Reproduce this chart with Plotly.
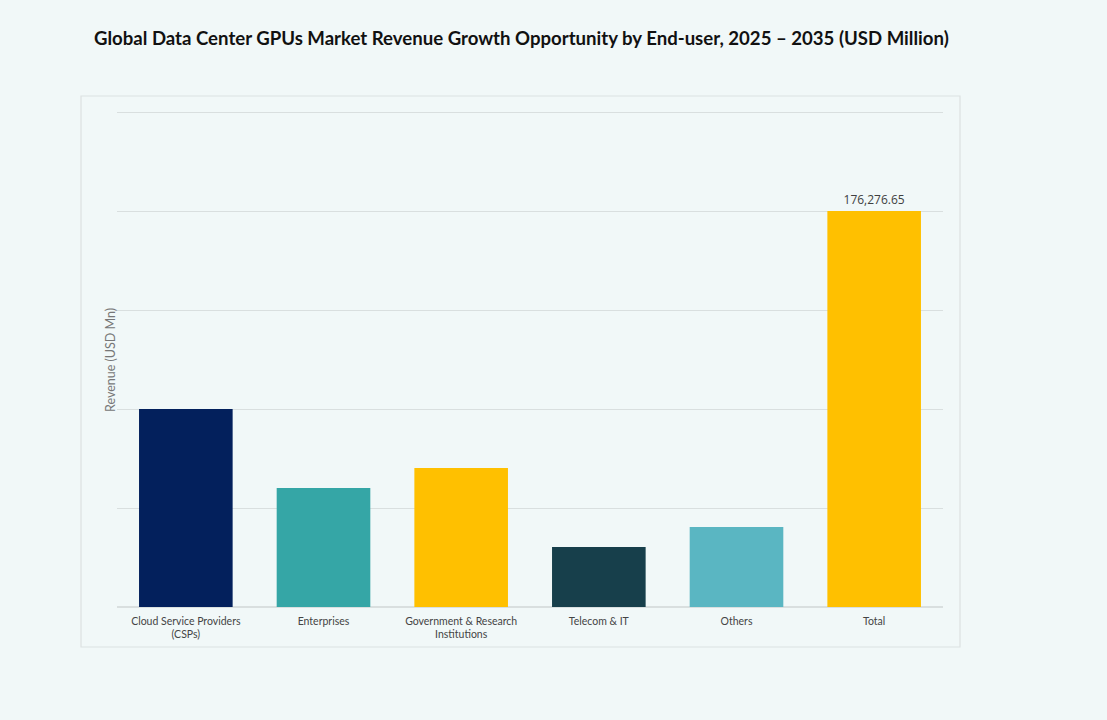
import plotly.graph_objects as go

categories = ["Cloud Service Providers<br>(CSPs)", "Enterprises", "Government & Research<br>Institutions",
              "Telecom & IT", "Others", "Total"]
values = [88138.3, 52972.0, 61875.0, 26709.0, 35612.0, 176276.65]
bar_colors = ["#03205c", "#35a6a6", "#ffc000", "#173f4b", "#5ab6c2", "#ffc000"]
bar_text = ["", "", "", "", "", "176,276.65"]

grid_step = values[-1] / 4

plot_top = 109
plot_bottom = 607
plot_h = plot_bottom - plot_top

fig = go.Figure()
fig.add_trace(go.Bar(
    x=categories, y=values,
    marker=dict(color=bar_colors, line=dict(width=0)),
    width=0.68,
    text=bar_text, textposition="outside", cliponaxis=False,
    textfont=dict(family="Open Sans, sans-serif", size=12, color="#404040"),
))

bg = "#f1f8f8"
fig.update_layout(
    width=1107, height=720,
    paper_bgcolor=bg, plot_bgcolor=bg,
    margin=dict(l=117, r=164, t=plot_top, b=720 - plot_bottom),
    showlegend=False,
    title=dict(text="<b>Global Data Center GPUs Market Revenue Growth Opportunity by End-user, 2025 – 2035 (USD Million)</b>",
               x=0.471, xanchor="center", y=0.946, yanchor="middle",
               font=dict(family="Lato, sans-serif", size=18.6, color="#111111")),
    xaxis=dict(showgrid=False, showline=False, zeroline=False, ticks="", ticklabelstandoff=6,
               tickfont=dict(family="Lato, sans-serif", size=10.5, color="#444444")),
    # 4 grid steps span 396 px
    yaxis=dict(range=[0, grid_step * 4 * plot_h / 396], dtick=grid_step, tick0=0,
               showticklabels=False, showgrid=True, gridcolor="#d9dfdf", gridwidth=1,
               zeroline=True, zerolinecolor="#d9dfdf", showline=False, ticks=""),
    shapes=[dict(type="rect", xref="paper", yref="paper",
                 x0=(81 - 117) / 826, x1=(960 - 117) / 826,
                 y0=(plot_bottom - 647) / plot_h, y1=(plot_bottom - 96) / plot_h,
                 line=dict(color="#dce2e2", width=1.2), fillcolor="rgba(0,0,0,0)", layer="below")],
    annotations=[dict(text="Revenue (USD Mn)", textangle=-90, xref="paper", yref="paper",
                      x=(110 - 117) / 826, y=(plot_bottom - 360) / plot_h, xanchor="center", yanchor="middle",
                      showarrow=False,
                      font=dict(family="Lato, sans-serif", size=12.5, color="#777777"))],
)

fig.write_html("out.html")
